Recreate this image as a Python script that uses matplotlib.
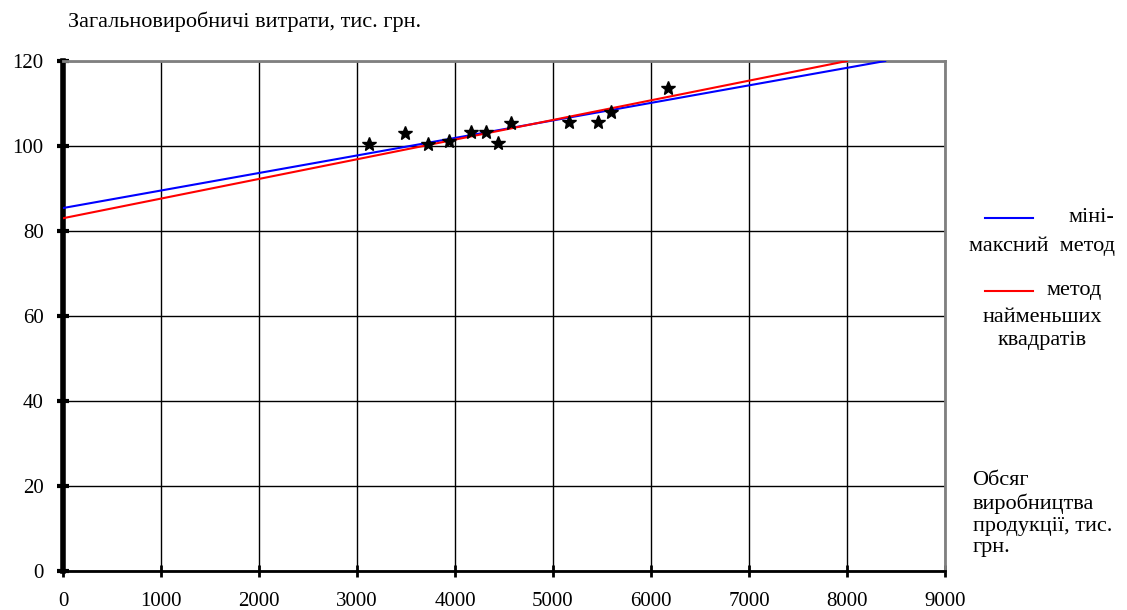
import matplotlib
matplotlib.use("Agg")
import matplotlib.pyplot as plt
from matplotlib.lines import Line2D

plt.rcParams["font.family"] = ["Liberation Serif", "DejaVu Serif"]

# observed points: production volume vs overhead costs
vol = [3120, 3490, 3720, 3940, 4160, 4320, 4440, 4570, 5160, 5460, 5590, 6170]
cost = [100.5, 103.1, 100.5, 101.2, 103.3, 103.3, 100.7, 105.4, 105.6, 105.6, 108.0, 113.6]

# fitted lines (endpoints)
minmax_x = [0, 8390]
minmax_y = [85.4, 120.0]
ls_x = [0, 8000]
ls_y = [83.0, 120.0]

xticks = list(range(0, 9001, 1000))
yticks = list(range(0, 121, 20))

fig = plt.figure(figsize=(11.27, 6.10), dpi=100)
ax = fig.add_axes([0.0559, 0.064, 0.7826, 0.836])

ax.plot(minmax_x, minmax_y, color="#0000ff", lw=1.5, zorder=3)
ax.plot(ls_x, ls_y, color="#ff0000", lw=1.5, zorder=3)
ax.plot(vol, cost, ls="none", marker="*", ms=10, color="black", zorder=4)

ax.set_xlim(0, 9000)
ax.set_ylim(0, 120)
ax.set_xticks(xticks)
ax.set_yticks(yticks)
ax.grid(True, color="black", lw=1.0, zorder=1)
ax.set_axisbelow(True)

for sp in ["top", "right"]:
    ax.spines[sp].set_color("#808080")
    ax.spines[sp].set_linewidth(2)
ax.spines["left"].set_linewidth(4)
ax.spines["bottom"].set_linewidth(2)
ax.tick_params(axis="y", direction="inout", length=8, width=3, labelsize=15, pad=10)
ax.tick_params(axis="x", direction="inout", length=8, width=2, labelsize=15, pad=11)

fig.text(0.060, 0.964, "Загальновиробничі витрати, тис. грн.", fontsize=16, ha="left", va="center")

# legend drawn by hand
fs = 16
fig.add_artist(Line2D([0.874, 0.917], [0.643, 0.643], color="#0000ff", lw=1.5))
fig.text(0.948, 0.643, "міні-", fontsize=fs, ha="left", va="center")
fig.text(0.925, 0.597, "максний  метод", fontsize=fs, ha="center", va="center")
fig.add_artist(Line2D([0.874, 0.917], [0.523, 0.523], color="#ff0000", lw=1.5))
fig.text(0.929, 0.523, "метод", fontsize=fs, ha="left", va="center")
fig.text(0.925, 0.479, "найменьших", fontsize=fs, ha="center", va="center")
fig.text(0.925, 0.441, "квадратів", fontsize=fs, ha="center", va="center")

fig.text(0.863, 0.157, "Обсяг\nвиробництва\nпродукції, тис.\nгрн.", fontsize=fs,
         ha="left", va="center", linespacing=1.2)

fig.savefig("out.png", dpi=100, facecolor="white")
